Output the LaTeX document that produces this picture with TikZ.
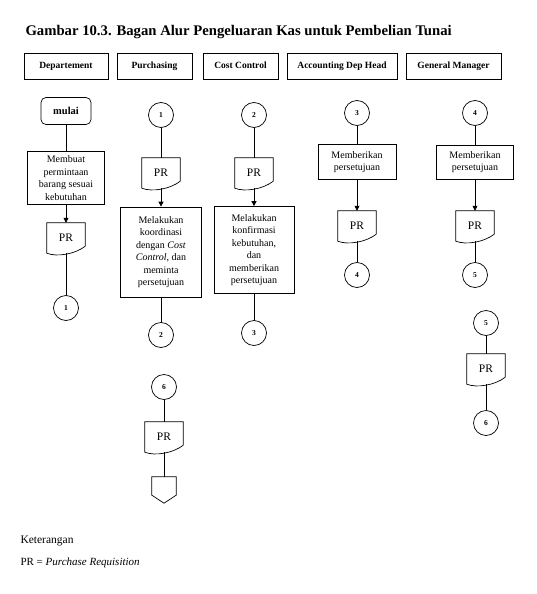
\documentclass[tikz,border=0pt]{standalone}
\usepackage{fontspec}
\setmainfont{Liberation Serif}
\usetikzlibrary{positioning,arrows.meta}

\begin{document}
\begin{tikzpicture}[x=1pt,y=1pt,>={Triangle[length=5pt,width=5pt]},
  lane/.style={draw,line width=0.9pt,minimum height=26pt,inner sep=2pt,text height=1.6ex,text depth=.4ex,font=\bfseries\fontsize{9.5}{11}\selectfont},
  proc/.style={draw,line width=0.7pt,align=center,inner sep=2pt,font=\fontsize{10}{12.5}\selectfont},
  con/.style={draw,circle,line width=0.7pt,minimum size=25pt,inner sep=0pt,font=\bfseries\fontsize{7.5}{9}\selectfont},
  doc/.style={minimum width=38pt,minimum height=30pt,inner sep=0pt,font=\fontsize{11.5}{12}\selectfont},
  offpage/.style={minimum width=24pt,minimum height=26pt,inner sep=0pt},
  line/.style={line width=0.7pt}]
\useasboundingbox (0,0) rectangle (536,-594);

\node[anchor=west,font=\bfseries\fontsize{14.7}{16}\selectfont] (title) at (22,-32) {Gambar 10.3. Bagan Alur Pengeluaran Kas untuk Pembelian Tunai};

% lajur
\node[lane,minimum width=84pt] (hdep) at (66,-66) {Departement};
\node[lane,minimum width=75pt] (hpur) at (154.5,-66) {Purchasing};
\node[lane,minimum width=75pt] (hcc) at (240.5,-66) {Cost Control};
\node[lane,minimum width=110pt] (hacc) at (342,-66) {Accounting Dep Head};
\node[lane,minimum width=95pt] (hgm) at (453.5,-66) {General Manager};

% departement
\node[proc,rounded corners=5pt,minimum width=50pt,minimum height=27pt,font=\bfseries\fontsize{10.5}{12}\selectfont] (mulai) at (66,-111) {mulai};
\node[proc,minimum width=77pt,minimum height=53pt] (buat) at (66,-178) {Membuat\\permintaan\\barang sesuai\\kebutuhan};
\node[doc] (pr1) at (66,-238) {PR};
\node[con] (d1) at (66,-308) {1};

% purchasing
\node[con] (p1) at (161,-115) {1};
\node[doc] (pr2) at (161,-173) {PR};
\node[proc,minimum width=81pt,minimum height=90pt] (koord) at (161,-252) {Melakukan\\koordinasi\\dengan \textit{Cost}\\\textit{Control}, dan\\meminta\\persetujuan};
\node[con] (p2) at (161,-335) {2};
\node[con] (p6) at (164,-387) {6};
\node[doc] (pr7) at (164,-437) {PR};
\node[offpage] (akhir) at (164,-490) {};

% cost control
\node[con] (c2) at (254,-115) {2};
\node[doc] (pr3) at (254,-173) {PR};
\node[proc,minimum width=80pt,minimum height=87pt] (konf) at (254,-250) {Melakukan\\konfirmasi\\kebutuhan,\\dan\\memberikan\\persetujuan};
\node[con] (c3) at (254,-333) {3};

% accounting dep head
\node[con] (a3) at (357,-113) {3};
\node[proc,minimum width=78pt,minimum height=35pt] (setuja) at (357,-162) {Memberikan\\persetujuan};
\node[doc] (pr4) at (357,-226) {PR};
\node[con] (a4) at (357,-275) {4};

% general manager
\node[con] (g4) at (475,-113) {4};
\node[proc,minimum width=77pt,minimum height=34pt] (setujb) at (475,-162) {Memberikan\\persetujuan};
\node[doc] (pr5) at (475,-226) {PR};
\node[con] (g5) at (475,-275) {5};
\node[con] (g5b) at (486,-323) {5};
\node[doc] (pr6) at (486,-369) {PR};
\node[con] (g6) at (486,-423) {6};

% bentuk dokumen dan off-page
\foreach \i in {1,...,7}
  \draw[line] ([yshift=7pt]pr\i.south east) -- (pr\i.north east) -- (pr\i.north west) -- (pr\i.south west)
    .. controls +(10,-4) and +(-10,-8) .. ([yshift=7pt]pr\i.south east);
\draw[line] (akhir.north west) -- (akhir.north east) -- ([yshift=8pt]akhir.south east) -- (akhir.south) -- ([yshift=8pt]akhir.south west) -- cycle;

% alur
\foreach \a/\b in {mulai/buat,pr1/d1,p1/pr2,koord/p2,c2/pr3,konf/c3,a3/setuja,pr4/a4,g4/setujb,pr5/g5,g5b/pr6,pr6/g6,p6/pr7,pr7/akhir}
  \draw[line] (\a) -- (\b);
\foreach \a/\b in {buat/pr1,pr2/koord,pr3/konf,setuja/pr4,setujb/pr5}
  \draw[line,->] (\a) -- (\b);

% keterangan
\node[anchor=west,font=\fontsize{11.5}{13}\selectfont] (ket) at (17,-541) {Keterangan};
\node[anchor=west,font=\fontsize{11}{13}\selectfont] (ketpr) at (17,-563) {PR = \textit{Purchase Requisition}};
\end{tikzpicture}
\end{document}
